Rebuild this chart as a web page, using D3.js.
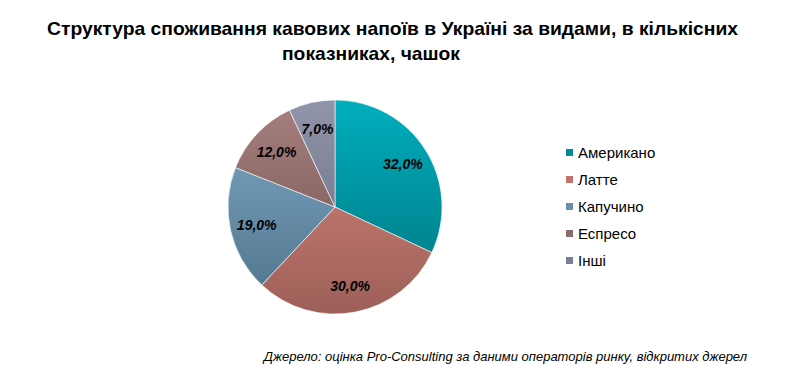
<!DOCTYPE html>
<html>
<head>
<meta charset="utf-8">
<script src="https://cdn.jsdelivr.net/npm/d3@7"></script>
<style>
  body { margin: 0; background: #fff; }
  svg { display: block; }
</style>
</head>
<body>
<div id="chart"></div>
<script>
/* Data */
const CATEGORIES = ["Американо", "Латте", "Капучино", "Еспресо", "Інші"]
const VALUES = [32.0, 30.0, 19.0, 12.0, 7.0]
const COLORS_TOP = ["#00aebd", "#dc877e", "#80aac7", "#a6807e", "#9095ab"]
const COLORS_BOTTOM = ["#00737e", "#9c6058", "#4e7189", "#6e504e", "#62667a"]
const LEGEND_COLORS = ["#008b96", "#c0756c", "#6890a8", "#8c6a68", "#7a7e94"]
const TITLE_LINES = ["Структура споживання кавових напоїв в Україні за видами, в кількісних", "показниках, чашок"]
const SOURCE = "Джерело: оцінка Pro-Consulting за даними операторів ринку, відкритих джерел"

const WIDTH = 789
const HEIGHT = 375
const CX = 335
const CY = 207
const RADIUS = 107
const TITLE_POS = [{x: 392.5, y: 35, w: 691}, {x: 371, y: 60, w: 178}]

const svg = d3.select("#chart").append("svg")
              .attr("width", WIDTH)
              .attr("height", HEIGHT);

/* Gradients (user space of the slice group, centred at 0,0) */
const defs = svg.append("defs");
VALUES.forEach((v, i) => {
  const g = defs.append("linearGradient")
                .attr("id", "grad" + i)
                .attr("gradientUnits", "userSpaceOnUse")
                .attr("x1", 0).attr("y1", -RADIUS)
                .attr("x2", 0).attr("y2", RADIUS);
  g.append("stop").attr("offset", "0%").attr("stop-color", COLORS_TOP[i]);
  g.append("stop").attr("offset", "100%").attr("stop-color", COLORS_BOTTOM[i]);
});

/* Title */
svg.append("g")
   .selectAll("text")
   .data(TITLE_LINES)
   .enter()
   .append("text")
   .attr("x", (d, i) => TITLE_POS[i].x)
   .attr("y", (d, i) => TITLE_POS[i].y)
   .attr("text-anchor", "middle")
   .attr("textLength", (d, i) => TITLE_POS[i].w)
   .attr("lengthAdjust", "spacingAndGlyphs")
   .style("font-family", "'Liberation Sans Narrow', 'Arial Narrow', 'Liberation Sans', sans-serif")
   .style("font-weight", "bold")
   .style("font-size", "19px")
   .attr("fill", "#000")
   .text((d) => d);

/* Pie */
const pie = d3.pie().sort(null).value((d) => d);
const arc = d3.arc().innerRadius(0).outerRadius(RADIUS);
const labelArc = d3.arc().innerRadius(RADIUS * 0.75).outerRadius(RADIUS * 0.75);
const arcs = pie(VALUES);

const pieG = svg.append("g").attr("transform", "translate(" + CX + "," + CY + ")");
pieG.selectAll("path")
    .data(arcs)
    .enter()
    .append("path")
    .attr("d", arc)
    .attr("fill", (d, i) => "url(#grad" + i + ")")
    .attr("stroke", "#fff")
    .attr("stroke-width", 0.6);

pieG.selectAll("text")
    .data(arcs)
    .enter()
    .append("text")
    .attr("transform", (d) => {
      const c = labelArc.centroid(d);
      return "translate(" + c[0] + "," + (c[1] + 5) + ")";
    })
    .attr("text-anchor", "middle")
    .style("font-family", "'Liberation Sans', Arial, sans-serif")
    .style("font-weight", "bold")
    .style("font-style", "italic")
    .style("font-size", "14px")
    .attr("fill", "#000")
    .text((d) => d3.format(".1f")(d.data).replace(".", ",") + "%");

/* Legend */
const legend = svg.append("g").attr("transform", "translate(566,153)");
const rows = legend.selectAll("g")
                   .data(CATEGORIES)
                   .enter()
                   .append("g")
                   .attr("transform", (d, i) => "translate(0," + i * 27 + ")");
rows.append("rect")
    .attr("x", 0).attr("y", -4)
    .attr("width", 7).attr("height", 7)
    .attr("fill", (d, i) => LEGEND_COLORS[i]);
rows.append("text")
    .attr("x", 12).attr("y", 5)
    .style("font-family", "'Liberation Sans', Arial, sans-serif")
    .style("font-size", "15px")
    .attr("fill", "#000")
    .text((d) => d);

/* Source */
svg.append("text")
   .attr("x", 747)
   .attr("y", 361)
   .attr("text-anchor", "end")
   .style("font-family", "'Liberation Sans', Arial, sans-serif")
   .style("font-style", "italic")
   .style("font-size", "13px")
   .attr("fill", "#000")
   .text(SOURCE);
</script>
</body>
</html>
